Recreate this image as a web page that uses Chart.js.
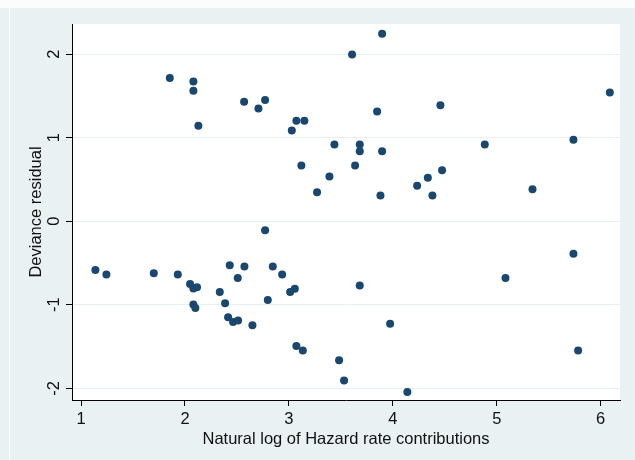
<!DOCTYPE html>
<html>
<head>
<meta charset="utf-8">
<script src="https://cdn.jsdelivr.net/npm/chart.js@4/dist/chart.umd.min.js"></script>
<style>
  html, body { margin: 0; padding: 0; background: #e9f1f3; }
  #wrap { width: 635px; height: 460px; position: relative; }
</style>
</head>
<body>
<div id="wrap"><canvas id="myChart" width="635" height="460"></canvas></div>
<script>
// natural log of hazard rate contributions
var xValues = [1.854, 2.081, 2.081, 2.129, 2.569, 2.707, 2.771, 3.028, 3.072, 3.149,
  3.120, 3.271, 2.771, 3.897, 3.608, 3.849, 4.458, 6.088, 3.438, 3.682,
  3.682, 3.897, 4.885, 5.738, 3.637, 3.390, 4.337, 4.474, 4.234, 4.381,
  3.881, 5.344, 1.138, 1.244, 1.700, 1.931, 2.049, 2.081, 2.116, 2.081,
  2.100, 2.335, 2.386, 2.431, 2.572, 2.508, 2.415, 2.463, 2.511, 2.649,
  2.797, 2.845, 2.935, 3.012, 3.057, 3.072, 3.134, 3.682, 3.974, 3.483,
  3.531, 4.140, 5.084, 5.738, 5.783];
// deviance residual
var yValues = [1.713, 1.673, 1.560, 1.141, 1.429, 1.350, 1.449, 1.086, 1.202, 1.202,
  0.667, 0.347, -0.108, 2.243, 1.996, 1.314, 1.389, 1.541, 0.918, 0.918,
  0.838, 0.838, 0.918, 0.974, 0.667, 0.535, 0.519, 0.611, 0.423, 0.308,
  0.308, 0.383, -0.583, -0.639, -0.623, -0.639, -0.751, -0.806, -0.790, -0.998,
  -1.038, -0.846, -0.982, -0.527, -0.543, -0.679, -1.150, -1.206, -1.190, -1.246,
  -0.942, -0.543, -0.639, -0.846, -0.810, -1.493, -1.549, -0.771, -1.226, -1.665,
  -1.908, -2.044, -0.679, -0.391, -1.549];
var xTicks = [1, 2, 3, 4, 5, 6];
var yTicks = [-2, -1, 0, 1, 2];
var xTitle = "Natural log of Hazard rate contributions";
var yTitle = "Deviance residual";

var FONT = "'Liberation Sans', Arial, Helvetica, sans-serif";

var points = xValues.map(function (x, i) { return { x: x, y: yValues[i] }; });

// background: white top strip and thin white line on the left
var bgPlugin = {
  id: "bg",
  beforeDraw: function (chart) {
    var ctx = chart.ctx;
    ctx.save();
    ctx.fillStyle = "#e9f1f3";
    ctx.fillRect(0, 0, chart.width, chart.height);
    ctx.fillStyle = "#fbfdfd";
    ctx.fillRect(0, 0, chart.width, 8);
    ctx.fillRect(9, 0, 1, chart.height);
    var a = chart.chartArea;
    ctx.fillStyle = "#ffffff";
    ctx.fillRect(a.left, a.top, a.right - a.left, a.bottom - a.top);
    ctx.restore();
  }
};

// y labels are drawn rotated, like Stata does
var yLabelPlugin = {
  id: "ylabels",
  afterDraw: function (chart) {
    var ctx = chart.ctx;
    var ys = chart.scales.y;
    ctx.save();
    ctx.fillStyle = "#111";
    ctx.font = "16.5px " + FONT;
    ctx.textAlign = "center";
    ctx.textBaseline = "alphabetic";
    ys.ticks.forEach(function (t) {
      var py = ys.getPixelForValue(t.value);
      ctx.save();
      ctx.translate(59, py);
      ctx.rotate(-Math.PI / 2);
      ctx.fillText(String(t.value), 0, 0);
      ctx.restore();
    });
    var a = chart.chartArea;
    ctx.translate(41, (a.top + a.bottom) / 2);
    ctx.rotate(-Math.PI / 2);
    ctx.fillText(yTitle, 0, 0);
    ctx.restore();
  }
};

new Chart("myChart", {
  type: "scatter",
  data: {
    datasets: [{
      data: points,
      backgroundColor: "#1a476f",
      borderWidth: 0,
      pointRadius: 4,
      pointHoverRadius: 4
    }]
  },
  plugins: [bgPlugin, yLabelPlugin],
  options: {
    responsive: false,
    animation: false,
    events: [],
    layout: { padding: { left: 0, top: 24, right: 15, bottom: 0 } },
    plugins: { legend: { display: false }, tooltip: { enabled: false } },
    scales: {
      x: {
        type: "linear",
        min: 0.913,
        max: 6.186,
        afterBuildTicks: function (scale) {
          scale.ticks = xTicks.map(function (v) { return { value: v }; });
        },
        afterFit: function (scale) { scale.height = 60; },
        border: { color: "#000", width: 1 },
        grid: { drawOnChartArea: false, drawTicks: true, tickLength: 6, tickColor: "#000" },
        ticks: { color: "#111", font: { family: FONT, size: 16.5 }, padding: 4, maxRotation: 0 },
        title: { display: true, text: xTitle, color: "#111", font: { family: FONT, size: 16.5 }, padding: { top: 1, bottom: 11 } }
      },
      y: {
        type: "linear",
        min: -2.14,
        max: 2.36,
        afterBuildTicks: function (scale) {
          scale.ticks = yTicks.map(function (v) { return { value: v }; });
        },
        afterFit: function (scale) { scale.width = 72; },
        border: { color: "#000", width: 1 },
        grid: { color: "#e6eff1", lineWidth: 1, drawTicks: true, tickLength: 6, tickColor: "#000" },
        ticks: { display: false }
      }
    }
  }
});
</script>
</body>
</html>
